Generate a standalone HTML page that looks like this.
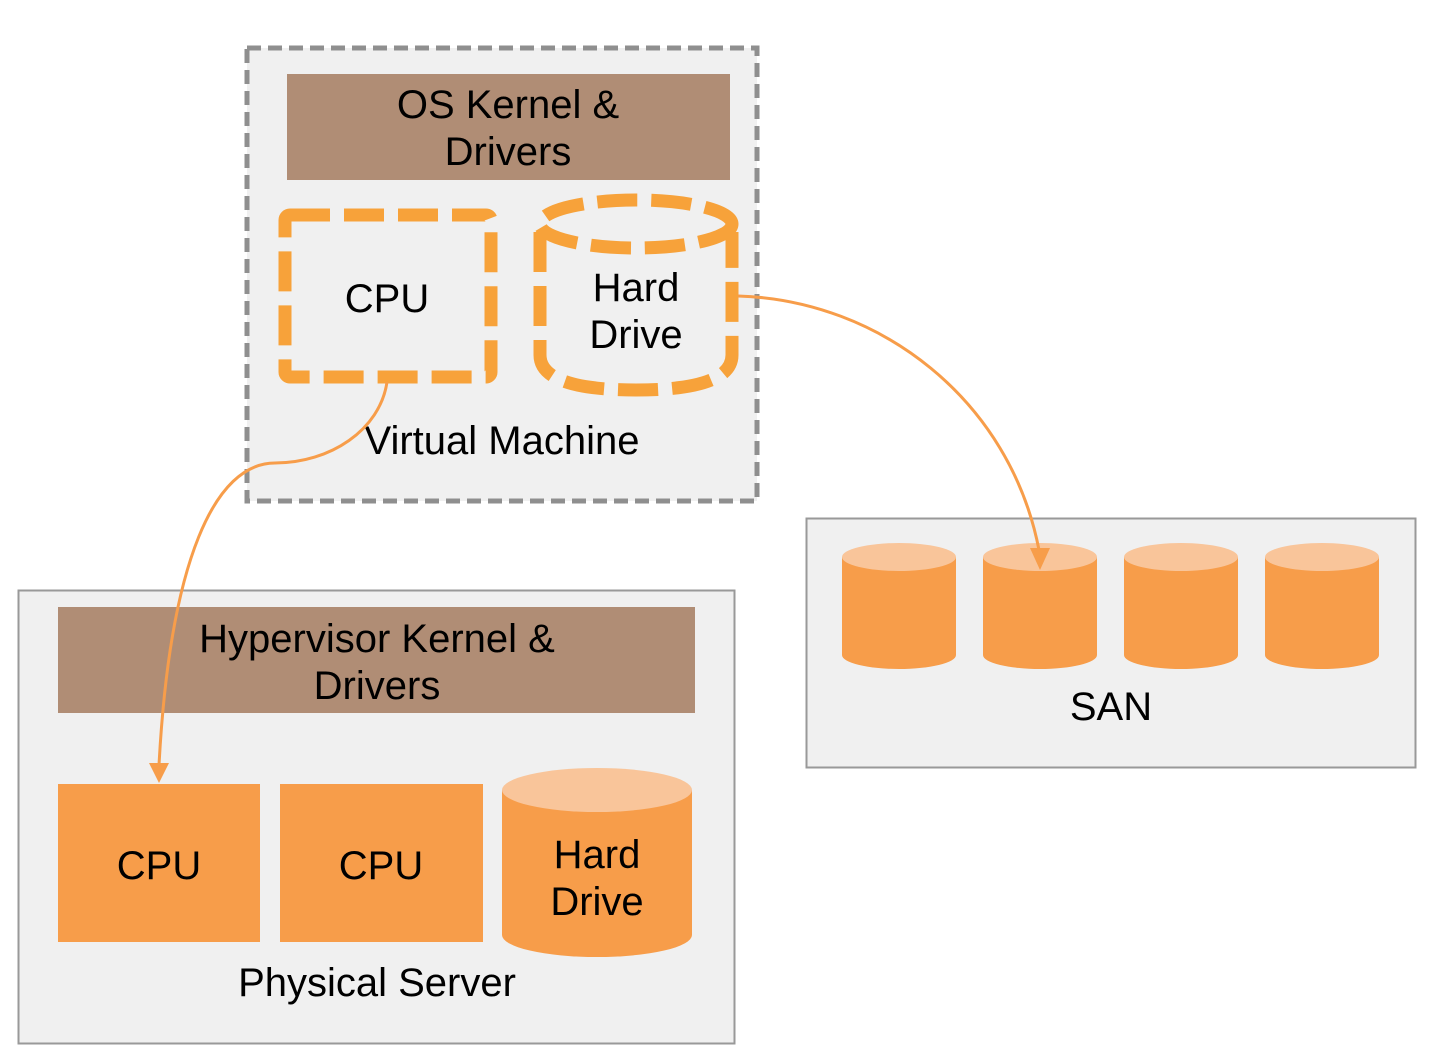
<!DOCTYPE html>
<html><head><meta charset="utf-8"><style>
html,body{margin:0;padding:0;background:#fff;}
svg{display:block;}
text{font-family:"Liberation Sans",Arial,sans-serif;fill:#000;}
</style></head><body>
<svg width="1446" height="1064" viewBox="0 0 1446 1064" xmlns="http://www.w3.org/2000/svg">
<!-- VM -->
<rect x="247" y="48" width="510" height="453" fill="#f0f0f0" stroke="#8f8f8f" stroke-width="5" stroke-dasharray="14,7"/>
<rect x="287" y="74" width="443" height="106" fill="#b08d75"/>
<text x="508" y="118" font-size="40" text-anchor="middle">OS Kernel &amp;</text>
<text x="508" y="165" font-size="40" text-anchor="middle">Drivers</text>
<rect x="285" y="215" width="206" height="162" rx="5" fill="none" stroke="#f7a23a" stroke-width="13" stroke-dasharray="40,14"/>
<text x="387" y="312" font-size="40" text-anchor="middle">CPU</text>
<path d="M540 232 L540 355 Q540 390 636 390 Q732 390 732 355 L732 232" fill="none" stroke="#f7a23a" stroke-width="13" stroke-dasharray="40,14"/>
<ellipse cx="636" cy="224" rx="96" ry="24" fill="none" stroke="#f7a23a" stroke-width="13" stroke-dasharray="40,14"/>
<text x="636" y="301" font-size="40" text-anchor="middle">Hard</text>
<text x="636" y="348" font-size="40" text-anchor="middle">Drive</text>
<text x="502" y="454" font-size="40" text-anchor="middle">Virtual Machine</text>
<!-- Physical -->
<rect x="18.5" y="590.5" width="716" height="453" fill="#f0f0f0" stroke="#999" stroke-width="2"/>
<rect x="58" y="607" width="637" height="106" fill="#b08d75"/>
<text x="377" y="652" font-size="40" text-anchor="middle">Hypervisor Kernel &amp;</text>
<text x="377" y="699" font-size="40" text-anchor="middle">Drivers</text>
<rect x="58" y="784" width="202" height="158" fill="#f79d4a"/>
<text x="159" y="879" font-size="40" text-anchor="middle">CPU</text>
<rect x="280" y="784" width="203" height="158" fill="#f79d4a"/>
<text x="381" y="879" font-size="40" text-anchor="middle">CPU</text>
<path d="M502 790 L502 935 A95 22 0 0 0 692 935 L692 790 Z" fill="#f79d4a"/>
<ellipse cx="597" cy="790" rx="95" ry="22" fill="#f9c59a"/>
<text x="597" y="868" font-size="40" text-anchor="middle">Hard</text>
<text x="597" y="915" font-size="40" text-anchor="middle">Drive</text>
<text x="377" y="996" font-size="40" text-anchor="middle">Physical Server</text>
<!-- SAN -->
<rect x="806.5" y="518.5" width="609" height="249" fill="#f0f0f0" stroke="#999" stroke-width="2"/>
<g fill="#f79d4a">
<path d="M842 557 L842 655 A57 14 0 0 0 956 655 L956 557 Z"/>
<path d="M983 557 L983 655 A57 14 0 0 0 1097 655 L1097 557 Z"/>
<path d="M1124 557 L1124 655 A57 14 0 0 0 1238 655 L1238 557 Z"/>
<path d="M1265 557 L1265 655 A57 14 0 0 0 1379 655 L1379 557 Z"/>
</g>
<g fill="#f9c59a">
<ellipse cx="899" cy="557" rx="57" ry="14"/>
<ellipse cx="1040" cy="557" rx="57" ry="14"/>
<ellipse cx="1181" cy="557" rx="57" ry="14"/>
<ellipse cx="1322" cy="557" rx="57" ry="14"/>
</g>
<text x="1111" y="720" font-size="40" text-anchor="middle">SAN</text>
<!-- connectors -->
<path d="M387 382 C380 430 330 463 275 463 C215 463 170 560 159 765" fill="none" stroke="#f79d4a" stroke-width="3"/>
<polygon points="149,763 169,763 159,783" fill="#f79d4a"/>
<path d="M738 296 C880 300 1010 400 1039 550" fill="none" stroke="#f79d4a" stroke-width="3"/>
<polygon points="1030,548 1050,548 1040,570" fill="#f79d4a"/>
</svg>
</body></html>
